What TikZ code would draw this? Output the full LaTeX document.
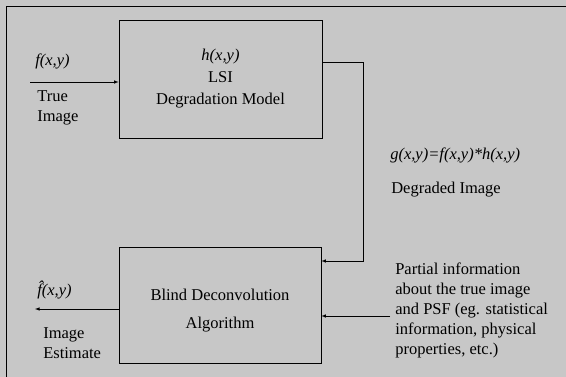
\documentclass[tikz,border=0pt]{standalone}
\usepackage{fontspec}
\setmainfont{Liberation Serif}
\usetikzlibrary{arrows}

\begin{document}
\begin{tikzpicture}[x=1pt, y=-1pt, line width=0.6pt,
  blk/.style={draw, rectangle, minimum width=203pt, minimum height=118pt,
              align=center, font=\fontsize{16.5}{22}\selectfont},
  txt/.style={inner sep=0pt, align=left, font=\fontsize{16.5}{20}\selectfont},
  a/.style={-latex}]

  % background and frame
  \fill[black!22] (0,0) rectangle (566,377);
  \useasboundingbox (0,0) rectangle (566,377);
  \draw (566,6) -- (6,6) -- (6,377);

  \node[blk] (degr)  at (220.5,79) {\textit{h(x,y)}\\LSI\\Degradation Model};
  \node[blk, minimum width=202pt, minimum height=116pt] (blind) at (220,305) {};
  \node[txt, align=center] (blindtxt) at (220,311)
    {Blind Deconvolution\\[8pt]Algorithm};

  \node[txt, anchor=west] (fxy)   at (35,61)   {\textit{f(x,y)}};
  \node[txt, anchor=west] (true)  at (37,108)  {True\\Image};
  \node[txt, anchor=west] (fhat)  at (37,290)  {\textit{\^{f}(x,y)}};
  \node[txt, anchor=west] (est)   at (43,343)  {Image\\Estimate};
  \node[txt, anchor=west] (gxy)   at (390,155) {\textit{g(x,y)=f(x,y)*h(x,y)}};
  \node[txt, anchor=west] (degim) at (391,190) {Degraded Image};
  \node[txt, anchor=west] (info)  at (395,310)
    {Partial information\\about the true image\\and PSF (eg. statistical\\information, physical\\properties, etc.)};

  \coordinate (fin)  at (30,82);
  \coordinate (fout) at (35,309);
  \coordinate (fb1)  at (363,62);
  \coordinate (fb2)  at (363,261);
  \coordinate (pin)  at (390,316);

  \draw[a] (fin) -- (fin -| degr.west);
  \draw[a] (blind.west |- fout) -- (fout);
  \draw[a] (degr.east |- fb1) -- (fb1) -- (fb2) -- (fb2 -| blind.east);
  \draw[a] (pin) -- (pin -| blind.east);

\end{tikzpicture}
\end{document}
